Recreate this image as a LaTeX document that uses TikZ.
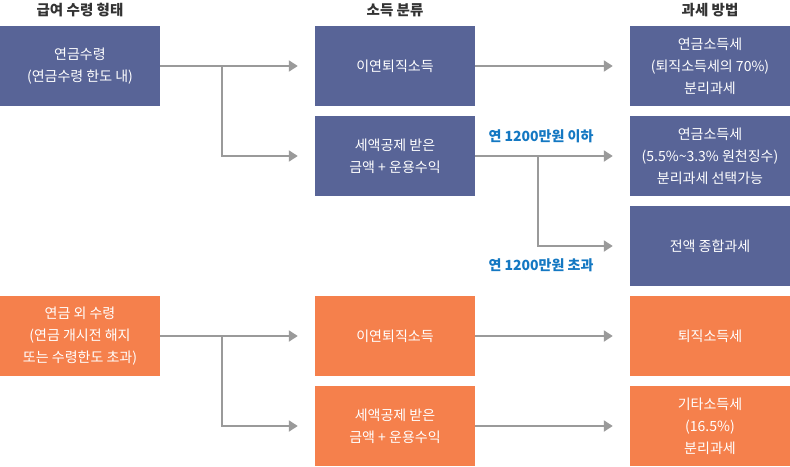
\documentclass[tikz,border=0pt]{standalone}
\usepackage{fontspec}
\setmainfont{Noto Sans CJK KR}
\usetikzlibrary{arrows.meta}
\definecolor{boxblue}{HTML}{586497}
\definecolor{boxorange}{HTML}{F5804C}
\definecolor{conngrey}{HTML}{9A9A9A}
\definecolor{labelblue}{HTML}{1478C2}
\tikzset{
  box/.style={rectangle, minimum width=160pt, minimum height=80pt, inner sep=0pt,
    text=white, align=center, font=\fontsize{14}{22}\selectfont},
  bluebox/.style={box, fill=boxblue},
  orangebox/.style={box, fill=boxorange},
  header/.style={font=\fontsize{14.5}{17}\selectfont\bfseries, text=black!80},
  cond/.style={font=\fontsize{14}{17}\selectfont\bfseries, text=labelblue},
  conn/.style={draw=conngrey, line width=2pt, -{Triangle[length=9pt,width=11pt]}, shorten >=17pt},
  seg/.style={draw=conngrey, line width=2pt}
}
\begin{document}
\begin{tikzpicture}[x=1pt,y=-1pt]
\useasboundingbox (0,0) rectangle (790,466);
% headers
\node[header] (h1) at (80,10) {급여 수령 형태};
\node[header] (h2) at (395,10) {소득 분류};
\node[header] (h3) at (710,10) {과세 방법};
% column 1
\node[bluebox] (a1) at (80,66) {연금수령\\(연금수령 한도 내)};
\node[orangebox] (a2) at (80,336) {연금 외 수령\\(연금 개시전 해지\\또는 수령한도 초과)};
% column 2
\node[bluebox] (b1) at (395,66) {이연퇴직소득};
\node[bluebox] (b2) at (395,156) {세액공제 받은\\금액 + 운용수익};
\node[orangebox] (b3) at (395,336) {이연퇴직소득};
\node[orangebox] (b4) at (395,426) {세액공제 받은\\금액 + 운용수익};
% column 3
\node[bluebox] (c1) at (710,66) {연금소득세\\(퇴직소득세의 70\%)\\분리과세};
\node[bluebox] (c2) at (710,156) {연금소득세\\(5.5\%\textasciitilde 3.3\% 원천징수)\\분리과세 선택가능};
\node[bluebox] (c3) at (710,246) {전액 종합과세};
\node[orangebox] (c4) at (710,336) {퇴직소득세};
\node[orangebox] (c5) at (710,426) {기타소득세\\(16.5\%)\\분리과세};
% junctions
\coordinate (j1) at (222,66);
\coordinate (j2) at (537.5,156);
\coordinate (j3) at (222,336);
% connectors
\draw[conn] (a1) -- (b1);
\draw[conn] (j1) |- (b2);
\draw[conn] (b1) -- (c1);
\draw[conn] (b2) -- (c2);
\draw[conn] (j2) |- (c3);
\draw[conn] (a2) -- (b3);
\draw[conn] (j3) |- (b4);
\draw[conn] (b3) -- (c4);
\draw[conn] (b4) -- (c5);
% labels
\node[cond] (l1) at (541,136) {연 1200만원 이하};
\node[cond] (l2) at (541,265) {연 1200만원 초과};
\end{tikzpicture}
\end{document}
